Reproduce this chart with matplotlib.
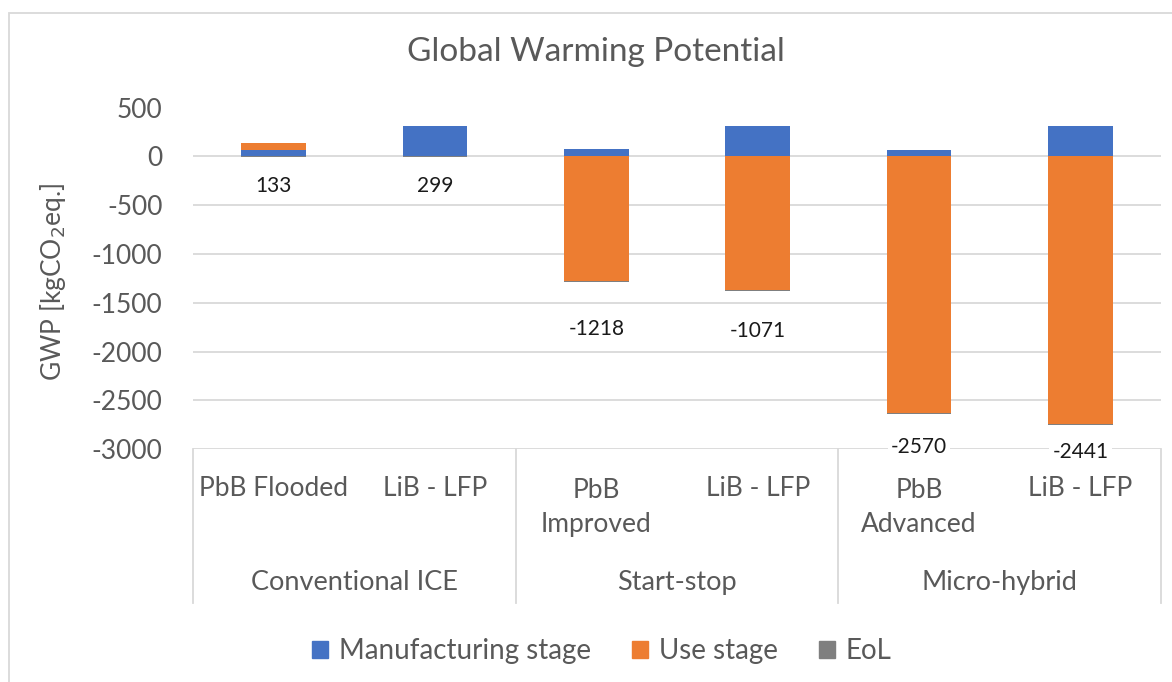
import numpy as np
import matplotlib
matplotlib.use("Agg")
import matplotlib.pyplot as plt
from matplotlib.patches import Rectangle, Patch

# GWP per battery option, split by life-cycle stage (kgCO2eq.)
GROUPS = ["Conventional ICE", "Start-stop", "Micro-hybrid"]
BATTERIES = ["PbB Flooded", "LiB - LFP", "PbB\nImproved", "LiB - LFP",
             "PbB\nAdvanced", "LiB - LFP"]
MANUFACTURING = [60, 310, 70, 310, 69, 310]
USE = [75, 0, -1280, -1370, -2631, -2740]
EOL = [-2, -11, -8, -11, -8, -11]
TOTALS = [133, 299, -1218, -1071, -2570, -2441]
SERIES = ["Manufacturing stage", "Use stage", "EoL"]

# where the total labels sit (data units)
LABEL_Y = [-300, -300, -1770, -1790, -2975, -3025]

BLUE = "#4472C4"; ORANGE = "#ED7D31"; GREY = "#7F7F7F"
TXT = "#595959"; GRID = "#D9D9D9"
FONT = "Lato"
plt.rcParams.update({"font.family": [FONT, "DejaVu Sans"], "text.color": TXT,
                     "axes.unicode_minus": False})

W, H = 1172, 682
fig = plt.figure(figsize=(W / 100, H / 100), dpi=100)
fig.patches.append(Rectangle((9 / W, -0.1), 1.2, 1.1 - 13 / H, transform=fig.transFigure,
                             fill=False, ec=GRID, lw=1.3))
ax = fig.add_axes([193 / W, 1 - 449.3 / H, 968 / W, 341.8 / H])

x = np.arange(len(BATTERIES))
man = np.array(MANUFACTURING, float)
use = np.array(USE, float)
eol = np.array(EOL, float)

# Excel-style stacking: positives pile up from 0, negatives pile down from 0
pos_base = np.zeros(len(x)); neg_base = np.zeros(len(x))
for vals, color in zip([man, use, eol], [BLUE, ORANGE, GREY]):
    bottom = np.where(vals >= 0, pos_base, neg_base)
    ax.bar(x, vals, 0.4, bottom=bottom, color=color, zorder=3)
    pos_base += np.where(vals >= 0, vals, 0)
    neg_base += np.where(vals < 0, vals, 0)

for xi, yi, t in zip(x, LABEL_Y, TOTALS):
    ax.text(xi, yi, f"{t}", ha="center", va="center", fontsize=15, color="#1a1a1a",
            zorder=5, bbox=dict(boxstyle="square,pad=0.15", fc="white", ec="none"))

ax.set_xlim(-0.5, len(x) - 0.5)
ax.set_ylim(-3000, 500)
ax.set_yticks(np.arange(-3000, 501, 500))
ax.yaxis.grid(True, color=GRID, lw=1.3, zorder=0)
ax.set_xticks([])
ax.tick_params(axis="y", length=0, pad=22, labelsize=19, labelcolor=TXT)
for s in ax.spines.values():
    s.set_visible(False)
ax.set_ylabel("GWP [kgCO$_2$eq.]", fontsize=19, color=TXT)
ax.yaxis.set_label_coords(-(193 - 68) / 968, 0.49)

# two-level category axis
xt = ax.get_xaxis_transform()
for xi, lab in zip(x, BATTERIES):
    yy = -0.116 if "\n" not in lab else -0.169
    ax.text(xi, yy, lab, transform=xt, ha="center", va="center", fontsize=19,
            color=TXT, linespacing=1.45)
for gi, g in enumerate(GROUPS):
    ax.text(2 * gi + 0.5, -0.391, g, transform=xt, ha="center", va="center",
            fontsize=19.5, color=TXT)
for b in [-0.5, 1.5, 3.5, 5.5]:
    ax.plot([b, b], [0, -154 / 341.8], transform=xt, color=GRID, lw=1.3,
            clip_on=False)

fig.text(596 / W, 1 - 52 / H, "Global Warming Potential", ha="center", va="center",
         fontsize=24, color=TXT)

handles = [Patch(color=c) for c in [BLUE, ORANGE, GREY]]
fig.legend(handles, SERIES, loc="center", bbox_to_anchor=(602 / W, 1 - 651 / H),
           ncol=3, frameon=False, fontsize=20, handlelength=0.55, handleheight=0.55,
           handletextpad=0.4, columnspacing=1.5, labelcolor=TXT)

fig.savefig("out.png", dpi=100, facecolor="white")
